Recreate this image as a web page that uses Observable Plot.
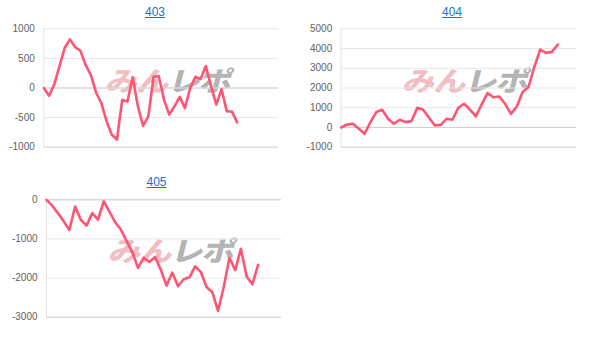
<!DOCTYPE html>
<html>
<head>
<meta charset="utf-8">
<script src="https://cdn.jsdelivr.net/npm/d3@7"></script>
<script src="https://cdn.jsdelivr.net/npm/@observablehq/plot@0.6"></script>
<style>
  html, body { margin: 0; padding: 0; background: #fff; }
  #root { position: relative; width: 603px; height: 344px; overflow: hidden; font-family: "Liberation Sans", Arial, sans-serif; }
  .panel { position: absolute; width: 300px; height: 170px; }
  .panel svg { position: absolute; left: 0; top: 0; z-index: 2; background: transparent; }
  .ttl { position: absolute; top: 5px; transform: translateX(-50%); font-size: 12px; color: #1a6fd1; text-decoration: underline; z-index: 3; }
  .wm { position: absolute; z-index: 1; transform: translate(-50%, -50%) skewX(-14deg) scaleX(1.2); white-space: nowrap;
        font-family: "Noto Sans CJK JP", sans-serif; font-weight: 900; font-size: 27px; line-height: 1; letter-spacing: -1px; }
  .wm .a { color: rgba(222, 110, 120, 0.45); }
  .wm .b { color: rgba(130, 130, 130, 0.6); }
</style>
</head>
<body>
<div id="root"></div>
<script>
// ---- data ----
const titles = ["403", "404", "405"];
const s403 = [0, -130, 60, 370, 680, 820, 690, 630, 390, 220, -80, -250, -560, -790, -870, -200, -230, 180, -310, -640, -480, 190, 200, -200, -450, -310, -150, -340, 0, 190, 150, 370, 30, -280, -20, -390, -400, -580];
const s404 = [0, 150, 190, -60, -320, 270, 780, 900, 440, 190, 390, 270, 320, 1000, 900, 490, 100, 130, 440, 390, 1000, 1200, 900, 560, 1170, 1740, 1530, 1570, 1200, 690, 1060, 1800, 2050, 3070, 3950, 3780, 3830, 4200];
const s405 = [0, -150, -340, -550, -770, -170, -510, -660, -340, -510, -40, -300, -570, -760, -1050, -1330, -1740, -1480, -1590, -1460, -1790, -2190, -1860, -2210, -2030, -1980, -1700, -1850, -2230, -2360, -2840, -2230, -1480, -1800, -1250, -1960, -2160, -1660];
const ticks403 = [-1000, -500, 0, 500, 1000];
const ticks404 = [-1000, 0, 1000, 2000, 3000, 4000, 5000];
const ticks405 = [-3000, -2000, -1000, 0];
const xMax = [44.9, 40.2, 41.1];

const panels = [
  {title: titles[0], data: s403, ticks: ticks403, xmax: xMax[0], left: 0, top: 0, ml: 43.3, mr: 22, mt: 28.3, mb: 23.3, titleX: 155},
  {title: titles[1], data: s404, ticks: ticks404, xmax: xMax[1], left: 300, top: 0, ml: 40.7, mr: 24, mt: 28.3, mb: 23.3, titleX: 152},
  {title: titles[2], data: s405, ticks: ticks405, xmax: xMax[2], left: 0, top: 170, ml: 46, mr: 19, mt: 29.3, mb: 23.3, titleX: 156.5}
];

const root = document.getElementById("root");
for (const p of panels) {
  const div = document.createElement("div");
  div.className = "panel";
  div.style.left = p.left + "px";
  div.style.top = p.top + "px";
  root.appendChild(div);

  const t = document.createElement("a");
  t.className = "ttl";
  t.href = "#";
  t.textContent = p.title;
  t.style.left = p.titleX + "px";
  div.appendChild(t);

  const ymin = d3.min(p.ticks), ymax = d3.max(p.ticks);
  const rows = p.data.map((v, i) => ({i, v}));
  const chart = Plot.plot({
    width: 300,
    height: 170,
    marginLeft: p.ml,
    marginRight: p.mr,
    marginTop: p.mt,
    marginBottom: p.mb,
    style: {background: "transparent", fontFamily: "'Liberation Sans', Arial, sans-serif", fontSize: "10px", color: "#5f5f5f"},
    x: {domain: [0, p.xmax], axis: null},
    y: {domain: [ymin, ymax], ticks: p.ticks, tickSize: 0, tickPadding: 9, label: null, tickFormat: d => String(d)},
    marks: [
      Plot.ruleY(p.ticks, {stroke: "#e6e6e6", strokeWidth: 1}),
      Plot.ruleY([0], {stroke: "#cfcfcf", strokeWidth: 1}),
      Plot.ruleY([ymin], {stroke: "#d6d6d6", strokeWidth: 1}),
      Plot.ruleX([0], {stroke: "#e2e2e2", strokeWidth: 1}),
      Plot.line(rows, {x: "i", y: "v", stroke: "#ff5573", strokeWidth: 2.6, strokeLinejoin: "round"})
    ]
  });
  div.appendChild(chart);

  // watermark behind the plot
  const plotW = 300 - p.ml - p.mr, plotH = 170 - p.mt - p.mb;
  const wm = document.createElement("div");
  wm.className = "wm";
  wm.style.left = (p.ml + plotW / 2 + 9) + "px";
  wm.style.top = (p.mt + plotH / 2 - 9) + "px";
  wm.innerHTML = '<span class="a">みん</span><span class="b">レポ</span>';
  div.appendChild(wm);
}
</script>
</body>
</html>
